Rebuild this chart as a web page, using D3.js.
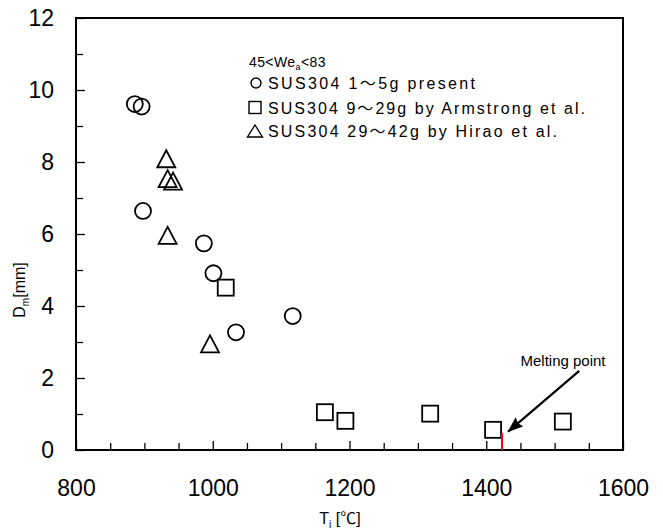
<!DOCTYPE html>
<html><head><meta charset="utf-8">
<script src="https://cdn.jsdelivr.net/npm/d3@7"></script>
<style>
html,body{margin:0;padding:0;background:#fff;}
svg{display:block;font-family:"Liberation Sans",Arial,"Noto Sans CJK JP",sans-serif;}
</style></head>
<body>
<div id="chart"></div>
<script>
// ---- data ----
const presentT = [886, 896, 898, 987, 1001, 1034, 1117];
const presentD = [9.61, 9.54, 6.64, 5.74, 4.91, 3.27, 3.72];
const armstrongT = [1019, 1164, 1194, 1318, 1410, 1512];
const armstrongD = [4.51, 1.05, 0.81, 1.01, 0.56, 0.79];
const hiraoT = [932, 934, 942, 934, 996];
const hiraoD = [8.09, 7.54, 7.47, 5.96, 2.95];
const xTicks = [800, 1000, 1200, 1400, 1600];
const xMinor = [850, 900, 950, 1050, 1100, 1150, 1250, 1300, 1350, 1450, 1500, 1550];
const yTicks = [0, 2, 4, 6, 8, 10, 12];
const yMinor = [1, 3, 5, 7, 9, 11];
const legendLabels = ["SUS304 1～5g present", "SUS304 9～29g by Armstrong et al.", "SUS304 29～42g by Hirao et al."];
const meltingPoint = 1423;
const meltingLineTop = 0.47;
const arrowFrom = [1536, 2.2];
const arrowTo = [1432, 0.51];

// ---- layout ----
const W = 663, H = 529;
const L = 76, R = 623, T = 18, B = 450;
const svg = d3.select("#chart").append("svg").attr("width", W).attr("height", H);
const x = d3.scaleLinear().domain([800, 1600]).range([L, R]);
const y = d3.scaleLinear().domain([0, 12]).range([B, T]);

// frame
svg.append("rect").attr("x", L).attr("y", T).attr("width", R - L).attr("height", B - T)
  .attr("fill", "none").attr("stroke", "#000").attr("stroke-width", 2);

// axes
const gx = svg.append("g").attr("transform", `translate(0,${B})`)
  .call(d3.axisBottom(x).tickValues(xTicks).tickSizeInner(-9).tickSizeOuter(0).tickPadding(30).tickFormat(d3.format("d")));
const gxm = svg.append("g").attr("transform", `translate(0,${B})`)
  .call(d3.axisBottom(x).tickValues(xMinor).tickSizeInner(-7).tickSizeOuter(0).tickFormat(""));
const gy = svg.append("g").attr("transform", `translate(${L},0)`)
  .call(d3.axisLeft(y).tickValues(yTicks).tickSizeInner(-9).tickSizeOuter(0).tickPadding(22).tickFormat(d3.format("d")));
const gym = svg.append("g").attr("transform", `translate(${L},0)`)
  .call(d3.axisLeft(y).tickValues(yMinor).tickSizeInner(-7).tickSizeOuter(0).tickFormat(""));
[gx, gxm, gy, gym].forEach(g => {
  g.select(".domain").remove();
  g.selectAll(".tick line").attr("stroke", "#000").attr("stroke-width", 1.3);
  g.selectAll(".tick text").attr("font-size", 23).attr("fill", "#000")
    .attr("font-family", '"Liberation Sans",Arial,sans-serif');
});

// axis titles
const xt = svg.append("text").attr("x", 340).attr("y", 524).attr("text-anchor", "middle")
  .attr("font-size", 16).attr("fill", "#000");
xt.append("tspan").text("T");
xt.append("tspan").attr("font-size", 10).attr("dy", 4).text("i");
xt.append("tspan").attr("dy", -4).text(" [℃]");

const yt = svg.append("text").attr("transform", "translate(25,290) rotate(-90)").attr("text-anchor", "middle")
  .attr("font-size", 16).attr("fill", "#000");
yt.append("tspan").text("D");
yt.append("tspan").attr("font-size", 10).attr("dy", 4).text("m");
yt.append("tspan").attr("dy", -4).text("[mm]");

// markers
const sw = 1.8;
const gm = svg.append("g");
gm.selectAll("circle.p").data(d3.zip(presentT, presentD)).join("circle")
  .attr("cx", d => x(d[0])).attr("cy", d => y(d[1])).attr("r", 8)
  .attr("fill", "none").attr("stroke", "#000").attr("stroke-width", sw);
gm.selectAll("rect.a").data(d3.zip(armstrongT, armstrongD)).join("rect")
  .attr("x", d => x(d[0]) - 8).attr("y", d => y(d[1]) - 8).attr("width", 16).attr("height", 16)
  .attr("fill", "none").attr("stroke", "#000").attr("stroke-width", sw);
const tri = (cx, cy, w, h) => `M${cx},${cy - h / 2}L${cx + w / 2},${cy + h / 2}L${cx - w / 2},${cy + h / 2}Z`;
gm.selectAll("path.h").data(d3.zip(hiraoT, hiraoD)).join("path")
  .attr("d", d => tri(x(d[0]), y(d[1]), 18, 17))
  .attr("fill", "none").attr("stroke", "#000").attr("stroke-width", sw).attr("stroke-linejoin", "miter");

// melting point
svg.append("line").attr("x1", x(meltingPoint)).attr("x2", x(meltingPoint))
  .attr("y1", y(0)).attr("y2", y(meltingLineTop)).attr("stroke", "#ff0000").attr("stroke-width", 2);
const defs = svg.append("defs");
defs.append("marker").attr("id", "ah").attr("viewBox", "0 0 16 12").attr("refX", 15).attr("refY", 6)
  .attr("markerWidth", 16).attr("markerHeight", 12).attr("markerUnits", "userSpaceOnUse").attr("orient", "auto")
  .append("path").attr("d", "M0,0L16,6L0,12L2,6Z").attr("fill", "#000");
svg.append("line").attr("x1", x(arrowFrom[0])).attr("y1", y(arrowFrom[1]))
  .attr("x2", x(arrowTo[0])).attr("y2", y(arrowTo[1]))
  .attr("stroke", "#000").attr("stroke-width", 2.2).attr("marker-end", "url(#ah)");
svg.append("text").attr("x", 563).attr("y", 366).attr("text-anchor", "middle")
  .attr("font-size", 15).attr("fill", "#000").text("Melting point");

// legend
const lh = svg.append("text").attr("x", 249).attr("y", 67).attr("font-size", 14).attr("fill", "#000")
  .attr("letter-spacing", 0.4);
lh.append("tspan").text("45<We");
lh.append("tspan").attr("font-size", 9).attr("dy", 3).text("a");
lh.append("tspan").attr("dy", -3).text("<83");

const legY = [89, 114, 137];
const legW = [207, 317, 289];
legendLabels.forEach((t, i) => {
  svg.append("text").attr("x", 268).attr("y", legY[i]).attr("font-size", 16).attr("fill", "#000")
    .attr("textLength", legW[i]).attr("lengthAdjust", "spacing").text(t);
});
svg.append("circle").attr("cx", 256).attr("cy", legY[0] - 6).attr("r", 5)
  .attr("fill", "none").attr("stroke", "#000").attr("stroke-width", 1.4);
svg.append("rect").attr("x", 249).attr("y", legY[1] - 12.5).attr("width", 12).attr("height", 12)
  .attr("fill", "none").attr("stroke", "#000").attr("stroke-width", 1.4);
svg.append("path").attr("d", tri(255, legY[2] - 6, 15, 12))
  .attr("fill", "none").attr("stroke", "#000").attr("stroke-width", 1.4);
</script>
</body></html>
